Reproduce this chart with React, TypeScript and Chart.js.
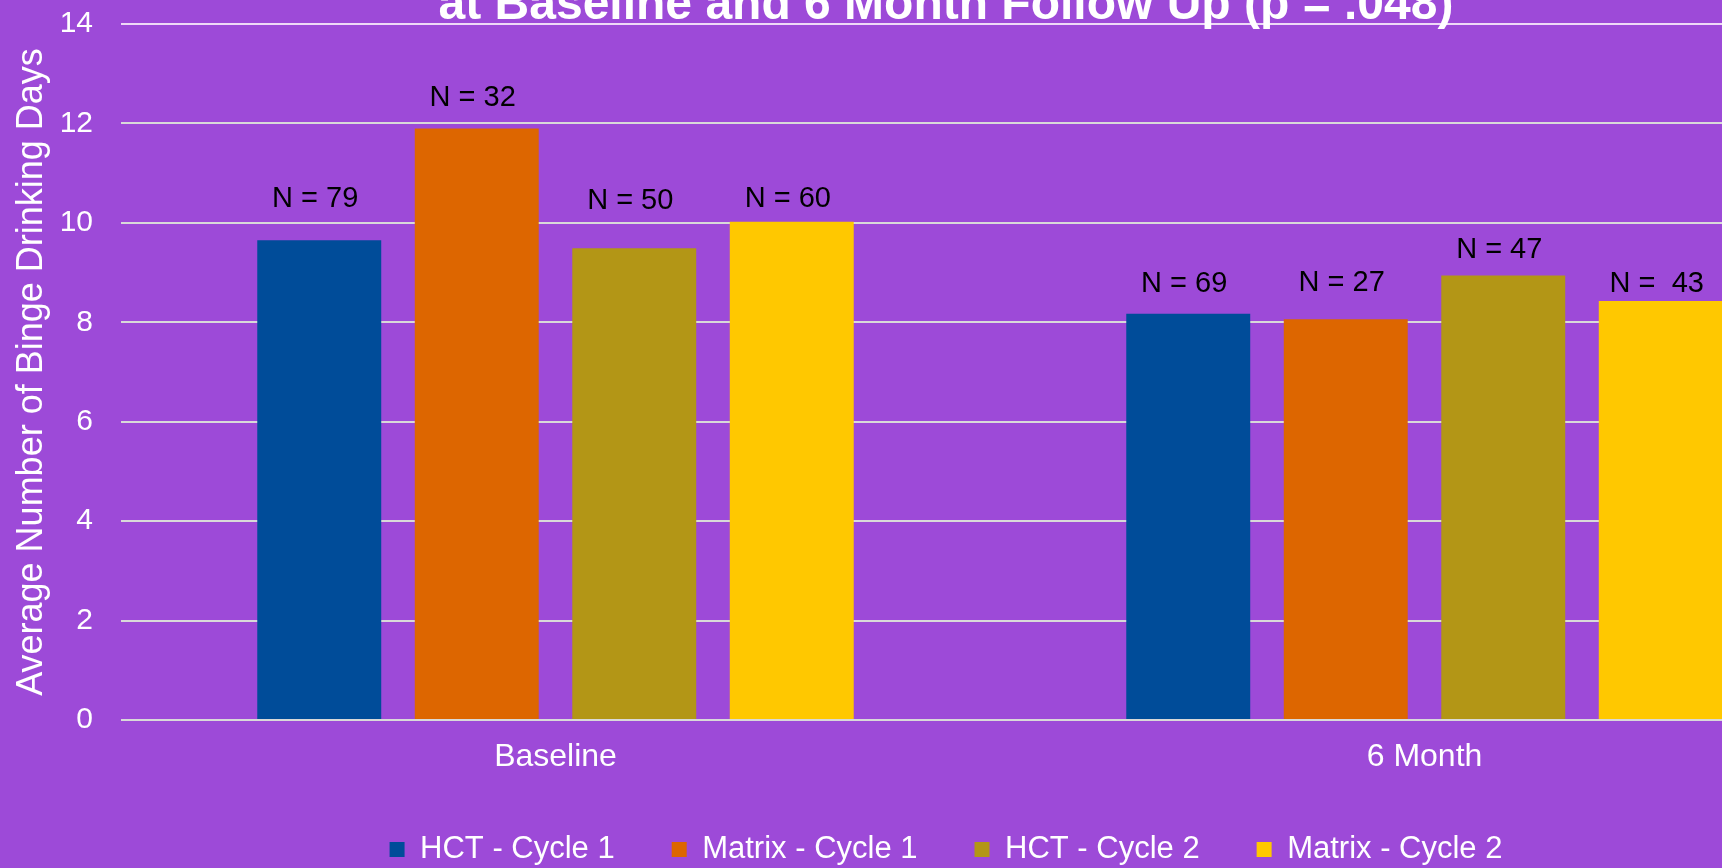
import React, { useEffect, useRef } from "react";
import { Chart, registerables } from "chart.js";

Chart.register(...registerables);

const categories = ["Baseline", "6 Month"];
const seriesNames = ["HCT - Cycle 1", "Matrix - Cycle 1", "HCT - Cycle 2", "Matrix - Cycle 2"];
const hctCycle1 = [9.65, 8.17];
const matrixCycle1 = [11.9, 8.06];
const hctCycle2 = [9.49, 8.94];
const matrixCycle2 = [10.02, 8.43];
const nHct1 = ["N = 79", "N = 69"];
const nMatrix1 = ["N = 32", "N = 27"];
const nHct2 = ["N = 50", "N = 47"];
const nMatrix2 = ["N = 60", "N =  43"];
// height (in axis units) at which each N label sits
const nYHct1 = [10.47, 8.77];
const nYMatrix1 = [12.52, 8.79];
const nYHct2 = [10.44, 9.45];
const nYMatrix2 = [10.47, 8.77];
const yTicks = [0, 2, 4, 6, 8, 10, 12, 14];

const titleText = "at Baseline and 6 Month Follow Up (p = .048)";
const yTitle = "Average Number of Binge Drinking Days";

const FONT = "'Liberation Sans', Arial, sans-serif";
const PURPLE = "rgb(157, 74, 216)";
const colors = ["#004C99", "#DD6600", "#B39616", "#FFC800"];

const seriesValues = [hctCycle1, matrixCycle1, hctCycle2, matrixCycle2];
const nLabels = [nHct1, nMatrix1, nHct2, nMatrix2];
const nLabelY = [nYHct1, nYMatrix1, nYHct2, nYMatrix2];

const nLabelPlugin = {
  id: "nLabels",
  afterDatasetsDraw(chart: any) {
    const ctx = chart.ctx;
    const yScale = chart.scales.y;
    ctx.save();
    ctx.font = `29px ${FONT}`;
    ctx.fillStyle = "#000000";
    ctx.textAlign = "center";
    ctx.textBaseline = "middle";
    nLabels.forEach((labels, di) => {
      const meta = chart.getDatasetMeta(di);
      labels.forEach((txt, i) => {
        const el = meta.data[i];
        if (!el) return;
        ctx.fillText(txt, el.x - 4, yScale.getPixelForValue(nLabelY[di][i]));
      });
    });
    ctx.restore();
  },
};

export default function App() {
  const canvasRef = useRef<HTMLCanvasElement | null>(null);

  useEffect(() => {
    if (!canvasRef.current) return;
    const chart = new Chart(canvasRef.current, {
      type: "bar",
      data: {
        labels: categories,
        datasets: seriesNames.map((name, i) => ({
          label: name,
          data: seriesValues[i],
          backgroundColor: colors[i],
          borderWidth: 0,
          categoryPercentage: 0.725,
          barPercentage: 0.787,
        })),
      },
      options: {
        animation: false,
        responsive: true,
        maintainAspectRatio: false,
        layout: { padding: 0 },
        plugins: {
          title: {
            display: true,
            text: titleText,
            color: "#FFFFFF",
            font: { family: FONT, size: 48, weight: "bold", lineHeight: 1 },
            padding: { top: 6, bottom: -6 },
          },
          legend: {
            position: "bottom",
            labels: {
              color: "#FFFFFF",
              font: { family: FONT, size: 31 },
              boxWidth: 15,
              boxHeight: 15,
              padding: 57,
            },
          },
          tooltip: { enabled: false },
        },
        scales: {
          x: {
            grid: { display: false, drawTicks: false },
            border: { display: false },
            afterFit: (scale: any) => {
              scale.height = 57;
            },
            ticks: {
              color: "#FFFFFF",
              font: { family: FONT, size: 32 },
              padding: 18,
            },
          },
          y: {
            min: 0,
            max: 14,
            afterFit: (scale: any) => {
              scale.width = 115;
            },
            afterBuildTicks: (scale: any) => {
              scale.ticks = yTicks.map((v) => ({ value: v }));
            },
            grid: {
              drawTicks: false,
              lineWidth: 2,
              color: (c: any) => (c.tick && c.tick.value === 14 ? "#EFD9F7" : "#D9D9D9"),
            },
            border: { display: false },
            ticks: {
              color: "#FFFFFF",
              font: { family: FONT, size: 30 },
              padding: 28,
            },
            title: {
              display: true,
              text: yTitle,
              color: "#FFFFFF",
              font: { family: FONT, size: 36 },
              padding: { top: 4, bottom: 4 },
            },
          },
          yRight: {
            position: "right",
            display: true,
            min: 0,
            max: 14,
            afterFit: (scale: any) => {
              scale.width = 27;
            },
            grid: { display: false, drawOnChartArea: false },
            border: { display: false },
            ticks: { display: false },
          },
        },
      },
      plugins: [nLabelPlugin],
    });
    return () => chart.destroy();
  }, []);

  return (
    <div
      style={{
        position: "fixed",
        left: 0,
        top: 0,
        width: 1722,
        height: 868,
        overflow: "hidden",
        background: PURPLE,
      }}
    >
      <div style={{ position: "absolute", left: 6, top: -24, width: 1880, height: 899 }}>
        <canvas ref={canvasRef} />
      </div>
    </div>
  );
}
